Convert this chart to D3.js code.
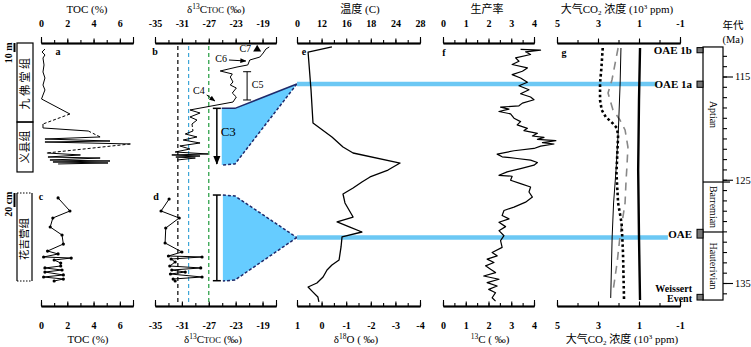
<!DOCTYPE html>
<html>
<head>
<meta charset="utf-8">
<script src="https://cdn.jsdelivr.net/npm/d3@7"></script>
<style>
body { margin: 0; background: #fff; }
svg { font-family: "Liberation Serif", "Noto Sans CJK SC", serif; }
</style>
</head>
<body>
<svg id="chart" width="751" height="347"></svg>
<script>
// ---------- data ----------
// a: TOC, upper section (depth in m from top of column)
var tocUpDepth = [6.7,10.0,13.3,16.7,24.4,32.2,38.9,46.7,52.2,57.8,62.2,78.9,90.0,94.4,97.8,104.4,106.7,108.9,110.0,112.2,122.2,124.4,126.7,127.8,130.0,131.1,132.2,133.3,134.4];
var tocUpVal = [0.3,0.08,0.3,0.15,0.23,0.15,0.3,0.15,0.3,0.15,0.04,2.2,0.15,0.15,3.6,4.5,0.3,5.25,0.3,6.8,0.45,3.0,0.53,4.5,0.68,5.25,0.91,5.1,1.3];
var tocUpDashed = [11, 14, 19];

// c: TOC, lower section (depth in cm)
var tocLowDepth = [7.1,25.7,35.7,48.6,60.0,72.9,82.9,87.1,91.4,92.9,95.7,100,104.3,107.1,110.0,112.9,117.1,120.0,122.9,125.7];
var tocLowVal = [1.3,2.2,0.9,0.7,1.6,1.7,0.5,1.3,0.2,2.3,1.0,1.5,1.5,0.3,1.6,0.3,1.7,0.2,1.7,1.0];

// b: d13C TOC, upper section
var cUpDepth = [4.4,6.7,11.1,15.6,18.9,24.4,26.7,31.1,34.4,37.8,43.3,46.7,50.0,55.6,60.0,65.6,74.4,77.8,82.2,85.6,90.0,97.8,101.1,104.4,107.8,111.1,114.4,117.8,121.1,123.3,124.4,125.6,126.7,127.8,130.0];
var cUpVal = [-18.0,-18.5,-18.9,-19.4,-20.9,-21.2,-22.8,-25.3,-23.5,-23.8,-23.4,-23.8,-22.9,-23.5,-22.9,-23.4,-29.8,-28.3,-29.8,-28.75,-29.5,-29.35,-30.5,-28.75,-30.8,-28.3,-31.3,-29.8,-32.0,-27.1,-32.5,-28.3,-31.9,-29.0,-31.7];
var cUpDashed = [20];

// d: d13C TOC, lower section
var cLowDepth = [8.6,25.7,35.7,50.0,71.4,84.3,90.0,91.4,94.3,98.6,104.3,107.1,110.0,112.9,115.7,120.0,122.9,125.7];
var cLowVal = [-32.9,-34.1,-31.4,-33.4,-33.5,-31.0,-33.0,-28.0,-32.6,-32.0,-32.8,-28.2,-32.5,-30.5,-32.7,-28.0,-32.3,-32.0];

// reference lines in b/d
var refVals = [-31.6, -30.0, -27.0];
var refColors = ['#000', '#3ea6d8', '#1f9a3c'];

// blue C3 wedges (d13C, depth)
var wedgeUpX = [-25.07, -23.1, -13.9, -23.1, -25.07];
var wedgeUpY = [72.6, 72.6, 45.6, 134.4, 135.6];
var wedgeLowX = [-24.9, -23.1, -13.9, -23.1, -24.9];
var wedgeLowY = [2.9, 4.3, 63.6, 124.3, 125.7];

// e: d18O vs age
var eAge = [112.14,112.63,116.31,119.50,120.86,121.83,122.41,123.38,124.06,124.73,125.22,125.80,126.38,127.25,128.61,129.09,129.58,130.06,130.54,131.51,132.77,133.26,133.74,134.42,135.00,135.39,135.88,136.36,136.84];
var eVal = [-0.42,0.55,0.43,0.35,-0.42,-0.87,-1.28,-3.19,-2.70,-1.97,-1.64,-1.28,-0.87,-0.95,-1.28,-0.63,-1.15,-1.64,-0.83,-0.79,-0.71,-0.42,-0.22,-0.06,0.19,0.55,0.35,0.15,0.11];
var tempTicks = [1, 0, -1, -2, -3, -4];
var tempLabels = ['0', '12', '16', '18', '24', '28'];

// f: productivity / 13C vs age
var fAge = [112.38,112.44,112.61,112.87,113.19,113.52,113.84,114.17,114.49,114.82,115.14,115.56,115.89,116.28,116.67,116.99,117.25,117.58,117.84,117.97,118.16,118.39,118.62,119.04,119.37,119.69,120.02,120.24,120.50,120.76,120.89,121.09,121.22,121.41,121.54,121.74,121.97,122.19,122.52,122.78,122.94,123.10,123.33,123.59,123.92,124.24,124.57,124.66,125.05,125.38,125.70,126.19,126.68,127.17,127.65,127.98,128.47,128.79,129.12,129.54,129.93,130.42,130.90,131.55,132.04,132.37,132.69,133.02,133.34,133.67,133.99,134.32,134.64,134.97,135.29,135.62,135.94,136.43,136.75];
var fVal = [3.41,4.29,3.63,3.85,3.19,3.34,3.04,3.71,3.49,3.04,3.41,3.71,3.34,3.78,3.41,3.85,4.0,3.49,3.34,2.53,2.90,2.46,2.97,3.12,3.41,3.26,3.71,3.56,4.15,3.93,4.44,4.15,4.96,4.37,4.88,4.29,4.0,3.12,2.38,2.60,3.26,3.85,4.15,4.0,3.41,2.82,2.46,3.04,2.97,3.41,3.85,3.78,3.93,3.63,3.12,2.68,2.60,2.90,2.46,2.75,2.46,2.68,2.53,2.60,2.16,2.38,1.94,2.24,1.87,2.09,2.31,1.79,2.46,1.94,2.38,2.01,2.31,2.16,2.31];

// g: atmospheric CO2 (10^3 ppm) vs age, four estimates
var gDotAge = [112.24,114.08,115.63,117.28,118.24,118.92,119.50,119.99,120.67,122.12,124.35,127.25,129.19,132.09,136.65];
var gDotVal = [2.77,2.83,2.9,2.9,2.82,2.62,2.3,2.08,2.02,2.05,2.1,2.02,1.85,1.78,1.73];
var gDashAge = [112.24,115.34,116.60,118.24,119.21,120.18,121.83,123.77,125.02,127.25,130.54,133.06,135.84];
var gDashVal = [2.02,2.32,2.51,2.27,1.93,1.68,1.54,1.59,1.63,1.68,1.93,2.07,2.27];
var gThinAge = [112.24,115.63,119.89,124.06,127.25,130.54,136.45];
var gThinVal = [1.88,1.92,2.0,2.12,2.24,2.31,2.38];
var gThickAge = [112.24,117.28,124.06,130.54,136.65];
var gThickVal = [0.95,1.0,1.04,1.0,0.95];

// OAE blue lines
var oaeAge = [115.73, 130.59];
var oaeEnd = [0.12, -0.41];

// time column
var stageNames = ['Aptian', 'Barremian', 'Hauterivian'];
var stageTop = [112.14, 125.22, 130.06];
var stageBase = [125.22, 130.06, 136.65];
var eventNames = [['OAE 1b'], ['OAE 1a'], ['OAE'], ['Weissert', 'Event']];
var eventTop = [112.2, 115.45, 129.8, 136.1];
var eventBase = [112.7, 116.05, 130.65, 136.65];
var eventLabelAge = [112.45, 115.75, 130.25, 135.95];

// formations
var upFmNames = ['九佛堂组', '义县组'];
var upFmTop = [0, 87.8];
var upFmBase = [87.8, 143.3];
var lowFmName = '花吉营组';
var lowFmBase = 125.7;

// ---------- scales ----------
var svg = d3.select('#chart');
var topY = 43, botY = 306;

var xToc = d3.scaleLinear().domain([0, 7]).range([41, 133]);
var xC = d3.scaleLinear().domain([-35, -17]).range([155, 276]);
var xO = d3.scaleLinear().domain([1, -4]).range([297, 420]);
var xP = d3.scaleLinear().domain([0, 4]).range([443, 534]);
var xG = d3.scaleLinear().domain([5, -1]).range([557, 680]);
var yUp = d3.scaleLinear().domain([0, 10]).range([43, 52]);
var yLow = d3.scaleLinear().domain([0, 20]).range([193, 207]);
var yAge = d3.scaleLinear().domain([115, 135]).range([76.5, 283]);

// ---------- helpers ----------
var defs = svg.append('defs');
defs.append('marker').attr('id', 'arr')
    .attr('viewBox', '0 0 10 10').attr('refX', 9).attr('refY', 5)
    .attr('markerWidth', 6).attr('markerHeight', 6).attr('orient', 'auto')
    .append('path').attr('d', 'M0,1L10,5L0,9z').attr('fill', '#000');

function axisH(scale, y, dir, allTicks, labTicks, fmt) {
    var make = dir === 'top' ? d3.axisTop : d3.axisBottom;
    var s = dir === 'top' ? 1 : -1;
    var g = svg.append('g').attr('transform', 'translate(0,' + y + ')');
    g.append('g').call(make(scale).tickValues(allTicks).tickSize(3 * s).tickSizeOuter(0).tickFormat(''));
    g.append('g').call(make(scale).tickValues(d3.extent(allTicks)).tickSize(6 * s).tickSizeOuter(0).tickFormat(''));
    var lab = g.append('g').call(make(scale).tickValues(labTicks).tickSize(4.5 * s).tickSizeOuter(0)
        .tickPadding(dir === 'top' ? 12 : 15.5).tickFormat(fmt || function(d) { return String(d); }));
    g.selectAll('path.domain').attr('stroke-width', 1.3);
    g.selectAll('.tick line').attr('stroke-width', 1.1);
    lab.attr('font-family', '"Liberation Serif", serif').attr('font-size', 10).attr('font-weight', 'bold');
}

function series(xs, ys, sx, sy, dashed, w) {
    var pts = xs.map(function(v, i) { return [sx(v), sy(ys[i])]; });
    var line = d3.line();
    dashed = dashed || [];
    var run = [pts[0]];
    function draw(p, d) {
        svg.append('path').attr('d', line(p)).attr('fill', 'none').attr('stroke', '#000')
            .attr('stroke-width', w || 1).attr('stroke-linejoin', 'round')
            .attr('stroke-dasharray', d ? '3,2' : null);
    }
    for (var i = 0; i < pts.length - 1; i++) {
        if (dashed.indexOf(i) >= 0) {
            if (run.length > 1) draw(run, false);
            draw([pts[i], pts[i + 1]], true);
            run = [pts[i + 1]];
        } else run.push(pts[i + 1]);
    }
    if (run.length > 1) draw(run, false);
    return pts;
}

function label(x, y, txt, size, opts) {
    opts = opts || {};
    return svg.append('text').attr('x', x).attr('y', y)
        .attr('font-size', size).attr('font-weight', opts.bold ? 'bold' : null)
        .attr('text-anchor', opts.anchor || 'middle').text(txt);
}

// ---------- stratigraphic columns ----------
upFmNames.forEach(function(n, i) {
    svg.append('rect').attr('x', 17).attr('width', 16)
        .attr('y', yUp(upFmTop[i])).attr('height', yUp(upFmBase[i]) - yUp(upFmTop[i]))
        .attr('fill', 'none').attr('stroke', '#000').attr('stroke-width', 1.2);
    var cy = (yUp(upFmTop[i]) + yUp(upFmBase[i])) / 2;
    svg.append('text').attr('transform', 'translate(25,' + cy + ') rotate(-90)')
        .attr('text-anchor', 'middle').attr('dy', '0.36em').attr('font-size', 11)
        .attr('letter-spacing', i === 0 ? 2.5 : 0)
        .attr('font-family', '"Noto Sans CJK SC", sans-serif').text(n);
});
// lower column: solid sides, dotted ends
[17, 32].forEach(function(x) {
    svg.append('line').attr('x1', x).attr('x2', x).attr('y1', yLow(0)).attr('y2', yLow(lowFmBase))
        .attr('stroke', '#000').attr('stroke-width', 1.2);
});
[0, lowFmBase].forEach(function(d) {
    svg.append('line').attr('x1', 17).attr('x2', 32).attr('y1', yLow(d)).attr('y2', yLow(d))
        .attr('stroke', '#000').attr('stroke-width', 1.2).attr('stroke-dasharray', '1.5,1.5');
});
svg.append('text').attr('transform', 'translate(24.5,' + yLow(lowFmBase / 2 + 3) + ') rotate(-90)')
    .attr('text-anchor', 'middle').attr('dy', '0.36em').attr('font-size', 10.5)
    .attr('font-family', '"Noto Sans CJK SC", sans-serif').text(lowFmName);

// scale bars
svg.append('line').attr('x1', 14.5).attr('x2', 14.5).attr('y1', yUp(0)).attr('y2', yUp(10))
    .attr('stroke', '#000').attr('stroke-width', 2);
svg.append('text').attr('transform', 'translate(12,' + yUp(11) + ') rotate(-90)')
    .attr('text-anchor', 'middle').attr('font-size', 10).attr('font-weight', 'bold').text('10 m');
svg.append('line').attr('x1', 14.5).attr('x2', 14.5).attr('y1', yLow(0)).attr('y2', yLow(20))
    .attr('stroke', '#000').attr('stroke-width', 2);
svg.append('text').attr('transform', 'translate(12,' + yLow(16) + ') rotate(-90)')
    .attr('text-anchor', 'middle').attr('font-size', 10).attr('font-weight', 'bold').text('20 cm');

// ---------- axes ----------
axisH(xToc, topY, 'top', d3.range(0, 7.01, 1), [0, 2, 4, 6]);
axisH(xToc, botY, 'bottom', d3.range(0, 7.01, 1), [0, 2, 4, 6]);
axisH(xC, topY, 'top', d3.range(-35, -16.9, 2), [-35, -31, -27, -23, -19]);
axisH(xC, botY, 'bottom', d3.range(-35, -16.9, 2), [-35, -31, -27, -23, -19]);
axisH(xO, topY, 'top', d3.range(1, -4.01, -0.5), tempTicks, function(d) { return tempLabels[tempTicks.indexOf(d)]; });
axisH(xO, botY, 'bottom', d3.range(1, -4.01, -0.5), tempTicks);
axisH(xP, topY, 'top', d3.range(0, 4.01, 0.5), [0, 1, 2, 3, 4]);
axisH(xP, botY, 'bottom', d3.range(0, 4.01, 0.5), [0, 1, 2, 3, 4]);
axisH(xG, topY, 'top', d3.range(5, -1.01, -1), [5, 3, 1, -1]);
axisH(xG, botY, 'bottom', d3.range(5, -1.01, -1), [5, 3, 1, -1]);

// titles
label(87, 13, 'TOC (%)', 11);
label(88, 343, 'TOC (%)', 11);
[13, 343].forEach(function(y) {
    var t = label(y === 13 ? 216 : 213, y, '', 11);
    t.append('tspan').text('δ');
    t.append('tspan').attr('font-size', 7.5).attr('dy', -4).text('13');
    t.append('tspan').attr('dy', 4).text('C');
    t.append('tspan').attr('font-size', 8.5).text('TOC');
    t.append('tspan').text(' (‰)');
});
label(360, 13, '温度 (C)', 11);
var t18 = label(356, 343, '', 11);
t18.append('tspan').text('δ');
t18.append('tspan').attr('font-size', 7.5).attr('dy', -4).text('18');
t18.append('tspan').attr('dy', 4).text('O ( ‰)');
label(487, 13, '生产率', 11);
var t13 = label(490, 343, '', 11);
t13.append('tspan').attr('font-size', 7.5).attr('dy', -4).text('13');
t13.append('tspan').attr('dy', 4).text('C ( ‰)');
[[617, 13], [622, 343]].forEach(function(p) {
    var t = label(p[0], p[1], '', 11);
    t.append('tspan').text('大气CO');
    t.append('tspan').attr('font-size', 7).attr('dy', 2).text('2');
    t.append('tspan').attr('dy', -2).text(' 浓度 (10');
    t.append('tspan').attr('font-size', 7).attr('dy', -4).text('3');
    t.append('tspan').attr('dy', 4).text(' ppm)');
});

// panel letters
[['a', 58, 55], ['b', 155, 55], ['c', 41, 200], ['d', 156, 200], ['e', 304, 55], ['f', 444, 56], ['g', 564, 56]]
    .forEach(function(p) { label(p[1], p[2], p[0], 10, { bold: true }); });

// ---------- b/d reference lines ----------
refVals.forEach(function(v, i) {
    svg.append('line').attr('x1', xC(v)).attr('x2', xC(v)).attr('y1', topY + 3).attr('y2', botY - 3)
        .attr('stroke', refColors[i]).attr('stroke-width', 1.2).attr('stroke-dasharray', '4,3');
});

// ---------- blue wedges ----------
var blue = '#66ccff', navy = '#1f2a6b';
function wedge(xs, ys, sy, topDashed) {
    var pts = xs.map(function(v, i) { return [xC(v), sy(ys[i])]; });
    svg.append('path').attr('d', d3.line()(pts) + 'Z').attr('fill', blue);
    svg.append('path').attr('d', d3.line()(pts.slice(0, 3))).attr('fill', 'none')
        .attr('stroke', navy).attr('stroke-width', 1.5).attr('stroke-dasharray', topDashed ? '3,2' : null);
    svg.append('path').attr('d', d3.line()(pts.slice(2))).attr('fill', 'none')
        .attr('stroke', navy).attr('stroke-width', 1.5).attr('stroke-dasharray', '3,2');
}
wedge(wedgeUpX, wedgeUpY, yUp, false);
wedge(wedgeLowX, wedgeLowY, yLow, true);

// OAE blue lines
oaeAge.forEach(function(a, i) {
    svg.append('line').attr('x1', xO(1)).attr('x2', xG(oaeEnd[i]))
        .attr('y1', yAge(a)).attr('y2', yAge(a))
        .attr('stroke', '#6cc8f4').attr('stroke-width', 4.5);
});

// brackets and C labels
function bracket(x, y1, y2, arrow, w) {
    svg.append('line').attr('x1', x).attr('x2', x).attr('y1', y1).attr('y2', y2)
        .attr('stroke', '#000').attr('stroke-width', w).attr('marker-end', arrow ? 'url(#arr)' : null);
    svg.append('line').attr('x1', x - 4).attr('x2', x + 4).attr('y1', y1).attr('y2', y1)
        .attr('stroke', '#000').attr('stroke-width', w);
    if (!arrow) svg.append('line').attr('x1', x - 4).attr('x2', x + 4).attr('y1', y2).attr('y2', y2)
        .attr('stroke', '#000').attr('stroke-width', w);
}
bracket(xC(-25.8), yUp(72.6), yUp(134.4), true, 1.5);
bracket(xC(-21.3), yUp(31.9), yUp(63.3), false, 1);
bracket(xC(-25.8), yLow(2.9), yLow(125.3), false, 1.5);
label(xC(-24.1), yUp(103.5), 'C3', 13);
label(xC(-20.6), yUp(50), 'C5', 10, { anchor: 'start' });
label(xC(-27.6), yUp(56.5), 'C4', 10, { anchor: 'end' });
label(xC(-24.3), yUp(21), 'C6', 10, { anchor: 'end' });
label(xC(-20.7), yUp(10), 'C7', 10, { anchor: 'end' });
svg.append('line').attr('x1', xC(-27.3)).attr('y1', yUp(57.8)).attr('x2', xC(-26.1)).attr('y2', yUp(64.4))
    .attr('stroke', '#000').attr('stroke-width', 1).attr('marker-end', 'url(#arr)');
svg.append('line').attr('x1', xC(-24.0)).attr('y1', yUp(18.9)).attr('x2', xC(-21.5)).attr('y2', yUp(20))
    .attr('stroke', '#000').attr('stroke-width', 1).attr('marker-end', 'url(#arr)');
svg.append('path').attr('d', d3.symbol(d3.symbolTriangle, 28)())
    .attr('transform', 'translate(' + xC(-19.8) + ',' + yUp(7) + ')').attr('fill', '#000');

// ---------- curves ----------
series(tocUpVal, tocUpDepth, xToc, yUp, tocUpDashed, 1);
var cPts = series(tocLowVal, tocLowDepth, xToc, yLow, [], 1);
series(cUpVal, cUpDepth, xC, yUp, cUpDashed, 1);
var dPts = series(cLowVal, cLowDepth, xC, yLow, [], 1);
svg.selectAll('circle.dot').data(cPts.concat(dPts)).enter().append('circle')
    .attr('class', 'dot').attr('cx', function(d) { return d[0]; }).attr('cy', function(d) { return d[1]; })
    .attr('r', 1.6).attr('fill', '#000');

series(eVal, eAge, xO, yAge, [], 1.3);
series(fVal, fAge, xP, yAge, [], 1.2);

var gLine = d3.line().x(function(d) { return xG(d[1]); }).y(function(d) { return yAge(d[0]); });
function gSeries(ages, vals, w, dash, color) {
    svg.append('path').attr('d', gLine(ages.map(function(a, i) { return [a, vals[i]]; })))
        .attr('fill', 'none').attr('stroke', color).attr('stroke-width', w)
        .attr('stroke-dasharray', dash);
}
gSeries(gDashAge, gDashVal, 1.6, '8,6', '#888');
gSeries(gThinAge, gThinVal, 1, null, '#000');
gSeries(gDotAge, gDotVal, 2.6, '2.6,2.6', '#000');
gSeries(gThickAge, gThickVal, 2.4, null, '#000');

// ---------- time column ----------
var colL = 703, colR = 723;
svg.append('rect').attr('x', colL).attr('width', colR - colL)
    .attr('y', yAge(stageTop[0])).attr('height', yAge(stageBase[2]) - yAge(stageTop[0]))
    .attr('fill', 'none').attr('stroke', '#000').attr('stroke-width', 1.2);
stageNames.forEach(function(n, i) {
    if (i > 0) svg.append('line').attr('x1', colL).attr('x2', i === 1 ? colR + 7 : colR)
        .attr('y1', yAge(stageTop[i])).attr('y2', yAge(stageTop[i])).attr('stroke', '#000').attr('stroke-width', 1.2);
    var cy = (yAge(stageTop[i]) + yAge(stageBase[i])) / 2;
    svg.append('text').attr('transform', 'translate(' + (colL + colR) / 2 + ',' + cy + ') rotate(90)')
        .attr('text-anchor', 'middle').attr('dy', '0.35em').attr('font-size', 10).text(n);
});
var ageG = svg.append('g').attr('transform', 'translate(' + colR + ',0)');
ageG.call(d3.axisRight(yAge).tickValues(d3.range(113, 137)).tickSize(4).tickSizeOuter(0).tickFormat(''));
ageG.append('g').call(d3.axisRight(yAge).tickValues([115, 125, 135]).tickSize(10).tickSizeOuter(0).tickPadding(2).tickFormat(String))
    .attr('font-family', '"Liberation Serif", serif').attr('font-size', 10.5);
ageG.selectAll('path.domain').remove();
ageG.selectAll('.tick line').attr('stroke-width', 1.1);
label(733, 29, '年代', 10.5);
label(733, 43, '(Ma)', 10.5);

eventNames.forEach(function(lines, i) {
    svg.append('rect').attr('x', colL - 6).attr('width', 6)
        .attr('y', yAge(eventTop[i])).attr('height', yAge(eventBase[i]) - yAge(eventTop[i]))
        .attr('fill', '#777').attr('stroke', '#000').attr('stroke-width', 1);
    var y0 = yAge(eventLabelAge[i]) + 4 - (lines.length - 1) * 4.5;
    lines.forEach(function(l, j) {
        label(692, y0 + j * 9.5, l, lines.length > 1 ? 10 : 11, { bold: true, anchor: 'end' });
    });
});
</script>
</body>
</html>
